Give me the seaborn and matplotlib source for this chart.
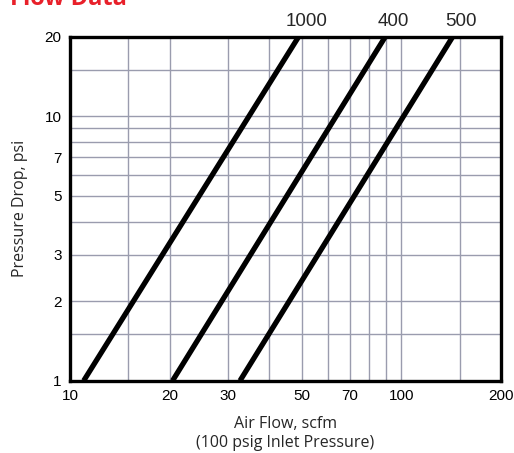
import pandas as pd
import seaborn as sns
import matplotlib.pyplot as plt
from matplotlib.ticker import NullFormatter

# Data (two end points per straight log-log line)
series_names = ['1000', '400', '500']
flow_1000 = [11.0, 49.0]
flow_400 = [20.4, 89.5]
flow_500 = [32.6, 143.0]
drop_ends = [1.0, 20.0]

x_ticks = [10, 20, 30, 50, 70, 100, 200]
x_minor = [15, 40, 60, 80, 90, 150]
y_ticks = [1, 2, 3, 5, 7, 10, 20]
y_minor = [1.5, 4, 6, 8, 9, 15]

rows = []
for name, flows in zip(series_names, [flow_1000, flow_400, flow_500]):
    for f, d in zip(flows, drop_ends):
        rows.append({'model': name, 'flow': f, 'drop': d})
df = pd.DataFrame(rows)

sns.set_style('white')
plt.rcParams['font.family'] = ['Liberation Sans', 'DejaVu Sans']

dpi = 100
fig = plt.figure(figsize=(514 / dpi, 453 / dpi), dpi=dpi)
ax = fig.add_axes([0.1362, 0.1596, 0.8385, 0.7594])

sns.lineplot(data=df, x='flow', y='drop', hue='model',
             palette=['black'] * 3, linewidth=3.8, legend=False,
             solid_capstyle='butt', ax=ax)

ax.set_xscale('log')
ax.set_yscale('log')
ax.set_xlim(10, 200)
ax.set_ylim(1, 20)

# ticks and grid
ax.set_xticks(x_ticks)
ax.set_xticklabels([str(v) for v in x_ticks])
ax.set_xticks(x_minor, minor=True)
ax.set_yticks(y_ticks)
ax.set_yticklabels([str(v) for v in y_ticks])
ax.set_yticks(y_minor, minor=True)
ax.xaxis.set_minor_formatter(NullFormatter())
ax.yaxis.set_minor_formatter(NullFormatter())
ax.tick_params(axis='both', which='both', length=0, labelsize=11, colors='black')
ax.tick_params(axis='x', pad=6)
ax.tick_params(axis='y', pad=6)
ax.grid(True, which='both', color='#9a9cae', linewidth=1.0)
ax.set_axisbelow(True)

for s in ax.spines.values():
    s.set_visible(True)
    s.set_color('black')
    s.set_linewidth(2.4)

# series labels above the line ends
for name, flows in zip(series_names, [flow_1000, flow_400, flow_500]):
    ax.annotate(name, xy=(flows[-1], drop_ends[-1]), xytext=(6, 5),
                textcoords='offset points', ha='center', va='bottom',
                fontsize=13.5, annotation_clip=False)

ax.set_xlabel('Air Flow, scfm\n(100 psig Inlet Pressure)', fontsize=11.5,
              family=['Open Sans', 'DejaVu Sans'], labelpad=9, linespacing=1.3)
ax.set_ylabel('Pressure Drop, psi', fontsize=11.5,
              family=['Open Sans', 'DejaVu Sans'], labelpad=12)

# title mostly cut off at the top edge, as in the source
fig.text(0.02, 0.99, 'Flow Data', color='#e8202a', fontsize=17,
         fontweight='bold', family=['Open Sans', 'DejaVu Sans'],
         ha='left', va='baseline')

fig.savefig('out.png', dpi=dpi)
